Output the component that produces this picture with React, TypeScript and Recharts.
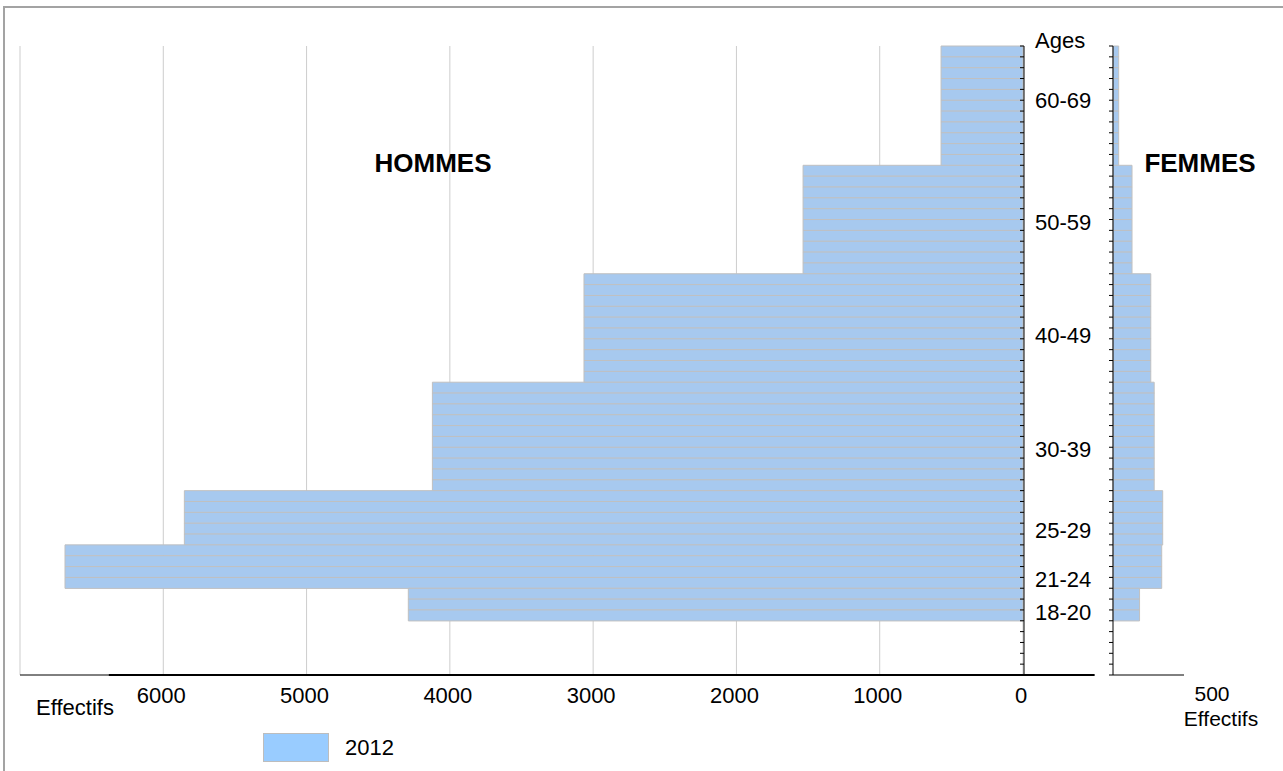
import React from "react";
import { BarChart, Bar, XAxis, YAxis, CartesianGrid, ReferenceLine } from "recharts";

// ---- data ----
const ageGroups = ["18-20", "21-24", "25-29", "30-39", "40-49", "50-59", "60-69"];
const groupFirstAge = [18, 21, 25, 30, 40, 50, 60];
const groupLastAge = [20, 24, 29, 39, 49, 59, 70];
const menByGroup = [4290, 6686, 5853, 4122, 3064, 1535, 572];
const womenByGroup = [187, 343, 350, 290, 266, 134, 40];
const youngestAge = 13;
const oldestAge = 70;

const menTicks = [0, 1000, 2000, 3000, 4000, 5000, 6000, 7000];
const menTickLabels = ["0", "1000", "2000", "3000", "4000", "5000", "6000", "Effectifs"];
const womenTicks = [500];
const womenTickLabels = ["500"];
const axisTitle = "Effectifs";
const ageAxisTitle = "Ages";
// where each age label sits on the age scale (in rows counted from the bottom)
const ageLabelRows = [5.8, 8.85, 13.3, 20.8, 31.3, 41.7, 53.0];
const ageTitleRow = 58.55;
const seriesName = "2012";
const menTitle = "HOMMES";
const womenTitle = "FEMMES";
const thickAxisFrom = 6380;
const thickAxisTo = -500;

// ---- table built from the arrays (one row per age, oldest first) ----
const rowCount = oldestAge - youngestAge + 1;
const rows: { age: string; pos: number; men: number | null; women: number | null }[] = [];
for (let a = oldestAge; a >= youngestAge; a--) {
  const g = groupFirstAge.findIndex((f, i) => a >= f && a <= groupLastAge[i]);
  rows.push({
    age: String(a),
    pos: a - youngestAge + 0.5,
    men: g >= 0 ? menByGroup[g] : null,
    women: g >= 0 ? womenByGroup[g] : null,
  });
}
const rowTicks = Array.from({ length: rowCount + 1 }, (_, i) => i);
const labelTicks = [...ageLabelRows, ageTitleRow];
const labelTexts = [...ageGroups, ageAxisTitle];

const FONT = '"Liberation Sans", Arial, sans-serif';
const BAR_FILL = "#a7c9ef";
const BAR_STROKE = "#c0c0c0";
const W = 1283;
const H = 771;

const MenTick = (props: any) => {
  const { x, y, index } = props;
  const label = menTickLabels[index];
  if (label === axisTitle) {
    return (
      <text x={x + 55} y={y + 32} dy="0.35em" textAnchor="middle" fontSize={22} fontFamily={FONT} fill="#000">
        {label}
      </text>
    );
  }
  return (
    <text x={x - 2} y={y + 20} dy="0.35em" textAnchor="middle" fontSize={22} fontFamily={FONT} fill="#000">
      {label}
    </text>
  );
};

const WomenTick = (props: any) => {
  const { x, y, index } = props;
  return (
    <g>
      <text x={x + 28} y={y + 19} dy="0.35em" textAnchor="middle" fontSize={21} fontFamily={FONT} fill="#000">
        {womenTickLabels[index]}
      </text>
      <text x={x + 37} y={y + 44} dy="0.35em" textAnchor="middle" fontSize={21} fontFamily={FONT} fill="#000">
        {axisTitle}
      </text>
    </g>
  );
};

const AgeTick = (props: any) => {
  const { x, y, index } = props;
  return (
    <text x={x + 12} y={y} dy="0.35em" textAnchor="start" fontSize={22} fontFamily={FONT} fill="#000">
      {labelTexts[index]}
    </text>
  );
};

const NoLabel = () => <g />;

export default function App() {
  return (
    <div
      style={{
        position: "absolute",
        left: 0,
        top: 0,
        width: W,
        height: H,
        overflow: "hidden",
        background: "#fff",
        fontFamily: FONT,
      }}
    >
      <div
        style={{
          position: "absolute",
          left: 3,
          top: 6,
          width: W + 40,
          height: H + 40,
          border: "2px solid #a3a3a3",
          boxSizing: "border-box",
        }}
      />
      {/* HOMMES */}
      <div style={{ position: "absolute", left: 0, top: 0 }}>
        <BarChart
          width={W}
          height={H}
          data={rows}
          layout="vertical"
          margin={{ top: 46, right: 258, bottom: 95, left: 20 }}
          barCategoryGap={0}
          barGap={0}
        >
          <CartesianGrid horizontal={false} stroke="#cdcdcd" />
          <XAxis
            type="number"
            domain={[0, 7000]}
            ticks={menTicks}
            reversed
            interval={0}
            height={1}
            tickLine={false}
            tickSize={0}
            tickMargin={0}
            axisLine={{ stroke: "#000" }}
            tick={MenTick}
          />
          <YAxis type="category" dataKey="age" hide width={0} />
          <YAxis
            yAxisId="rows"
            type="number"
            dataKey="pos"
            domain={[0, rowCount]}
            allowDataOverflow
            ticks={rowTicks}
            interval={0}
            reversed
            orientation="right"
            width={1}
            tickSize={-4}
            tickMargin={0}
            tick={NoLabel}
            axisLine={{ stroke: "#000" }}
            tickLine={{ stroke: "#000" }}
          />
          <YAxis
            yAxisId="labels"
            type="number"
            dataKey="pos"
            domain={[0, rowCount]}
            allowDataOverflow
            ticks={labelTicks}
            interval={0}
            reversed
            orientation="right"
            width={1}
            tickSize={0}
            tickMargin={0}
            axisLine={false}
            tickLine={false}
            tick={AgeTick}
          />
          <ReferenceLine
            yAxisId="rows"
            segment={[
              { x: thickAxisFrom, y: 0 },
              { x: thickAxisTo, y: 0 },
            ]}
            ifOverflow="visible"
            stroke="#000"
            strokeWidth={2}
          />
          <Bar dataKey="men" name={seriesName} fill={BAR_FILL} stroke={BAR_STROKE} strokeWidth={1} isAnimationActive={false} />
        </BarChart>
      </div>
      {/* FEMMES */}
      <div style={{ position: "absolute", left: 0, top: 0 }}>
        <BarChart
          width={W}
          height={H}
          data={rows}
          layout="vertical"
          margin={{ top: 46, right: 99, bottom: 95, left: 1112 }}
          barCategoryGap={0}
          barGap={0}
        >
          <XAxis
            type="number"
            domain={[0, 500]}
            ticks={womenTicks}
            interval={0}
            height={1}
            tickLine={false}
            tickSize={0}
            tickMargin={0}
            axisLine={{ stroke: "#000" }}
            tick={WomenTick}
          />
          <YAxis type="category" dataKey="age" hide width={0} />
          <Bar dataKey="women" name={seriesName} fill={BAR_FILL} stroke={BAR_STROKE} strokeWidth={1} isAnimationActive={false} />
          <YAxis
            yAxisId="rows"
            type="number"
            dataKey="pos"
            domain={[0, rowCount]}
            allowDataOverflow
            ticks={rowTicks}
            interval={0}
            reversed
            orientation="left"
            width={1}
            tickSize={4}
            tickMargin={0}
            tick={NoLabel}
            axisLine={{ stroke: "#000" }}
            tickLine={{ stroke: "#000" }}
          />
        </BarChart>
      </div>
      {/* titles */}
      <div
        style={{
          position: "absolute",
          left: 333,
          top: 148,
          width: 200,
          textAlign: "center",
          fontWeight: "bold",
          fontSize: 26,
          lineHeight: "30px",
        }}
      >
        {menTitle}
      </div>
      <div
        style={{
          position: "absolute",
          left: 1100,
          top: 148,
          width: 200,
          textAlign: "center",
          fontWeight: "bold",
          fontSize: 26,
          lineHeight: "30px",
        }}
      >
        {womenTitle}
      </div>
      {/* legend */}
      <div
        style={{
          position: "absolute",
          left: 263,
          top: 733,
          width: 66,
          height: 29,
          background: "#99ccff",
          border: "1px solid #bdbdbd",
          boxSizing: "border-box",
        }}
      />
      <div style={{ position: "absolute", left: 345, top: 734, fontSize: 22, lineHeight: "28px" }}>{seriesName}</div>
    </div>
  );
}
